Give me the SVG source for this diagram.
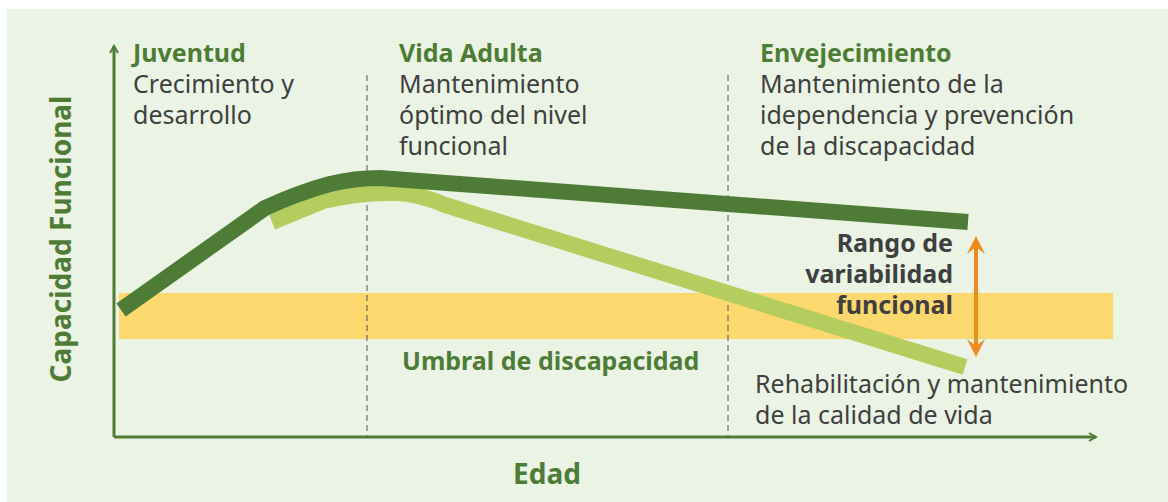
<svg xmlns="http://www.w3.org/2000/svg" width="1168" height="502" viewBox="0 0 1168 502">
<defs>
<style>
.h{font-family:"Noto Sans","Open Sans",sans-serif;font-weight:bold;font-size:25px;fill:#4e7c36}
.t{font-family:"Noto Sans","Open Sans",sans-serif;font-size:25px;fill:#3f3f3f}
.b{font-family:"Noto Sans","Open Sans",sans-serif;font-weight:bold;font-size:25px;fill:#3f3f3f}
.axis{stroke:#4e7c36;stroke-width:3;fill:none}
.dash{stroke:#555;stroke-width:1;stroke-dasharray:6 4;fill:none}
</style>
<marker id="ah" viewBox="0 0 10 10" refX="8" refY="5" markerWidth="10" markerHeight="10" markerUnits="userSpaceOnUse" orient="auto">
<path d="M1,1 L8,5 L1,9" fill="none" stroke="#4e7c36" stroke-width="2"/>
</marker>
</defs>
<rect x="0" y="0" width="1168" height="502" fill="#ffffff"/>
<rect x="7" y="9" width="1161" height="493" fill="#eaf3e4"/>
<g id="band">
<rect x="119" y="293" width="994" height="46" fill="#fcd86f"/>
</g>
<g id="connectors">
<line class="dash" x1="367" y1="75" x2="367" y2="437"/>
<line class="dash" x1="728" y1="75" x2="728" y2="437"/>
<path class="axis" d="M114,437 L114,46" marker-end="url(#ah)"/>
<path class="axis" d="M114,437 L1096,437" marker-end="url(#ah)"/>
<path d="M272,222 L323,201 Q360,192 396,193 Q420,194 445,205 L965,367" fill="none" stroke="#b5cd5e" stroke-width="16"/>
<path d="M121,310 L265,208 Q300,192 330,184 Q355,178 380,178 L968,222" fill="none" stroke="#4e7c36" stroke-width="16"/>
<g id="range-arrow">
<line x1="976" y1="244" x2="976" y2="349" stroke="#f08a1c" stroke-width="4"/>
<path d="M967,254 L976,236 L985,254 L976,247 Z" fill="#f08a1c"/>
<path d="M967,339 L976,357 L985,339 L976,346 Z" fill="#f08a1c"/>
</g>
</g>
<g id="juventud">
<text class="h" x="133" y="62">Juventud</text>
<text class="t" x="133" y="93">Crecimiento y</text>
<text class="t" x="133" y="124">desarrollo</text>
</g>
<g id="vida-adulta">
<text class="h" x="399" y="62">Vida Adulta</text>
<text class="t" x="399" y="93">Mantenimiento</text>
<text class="t" x="399" y="124">óptimo del nivel</text>
<text class="t" x="399" y="155">funcional</text>
</g>
<g id="envejecimiento">
<text class="h" x="760" y="62">Envejecimiento</text>
<text class="t" x="760" y="93">Mantenimiento de la</text>
<text class="t" x="760" y="124">idependencia y prevención</text>
<text class="t" x="760" y="155">de la discapacidad</text>
</g>
<g id="rango">
<text class="b" x="953" y="252" text-anchor="end">Rango de</text>
<text class="b" x="953" y="283" text-anchor="end">variabilidad</text>
<text class="b" x="953" y="314" text-anchor="end">funcional</text>
</g>
<g id="umbral">
<text class="h" x="402" y="370">Umbral de discapacidad</text>
</g>
<g id="rehab">
<text class="t" x="755" y="393">Rehabilitación y mantenimiento</text>
<text class="t" x="755" y="424">de la calidad de vida</text>
</g>
<g id="edad">
<text class="h" x="547" y="484" text-anchor="middle" style="font-size:28px">Edad</text>
</g>
<g id="capacidad">
<text class="h" x="0" y="0" text-anchor="middle" style="font-size:28px" transform="translate(71,239) rotate(-90)">Capacidad Funcional</text>
</g>
</svg>
